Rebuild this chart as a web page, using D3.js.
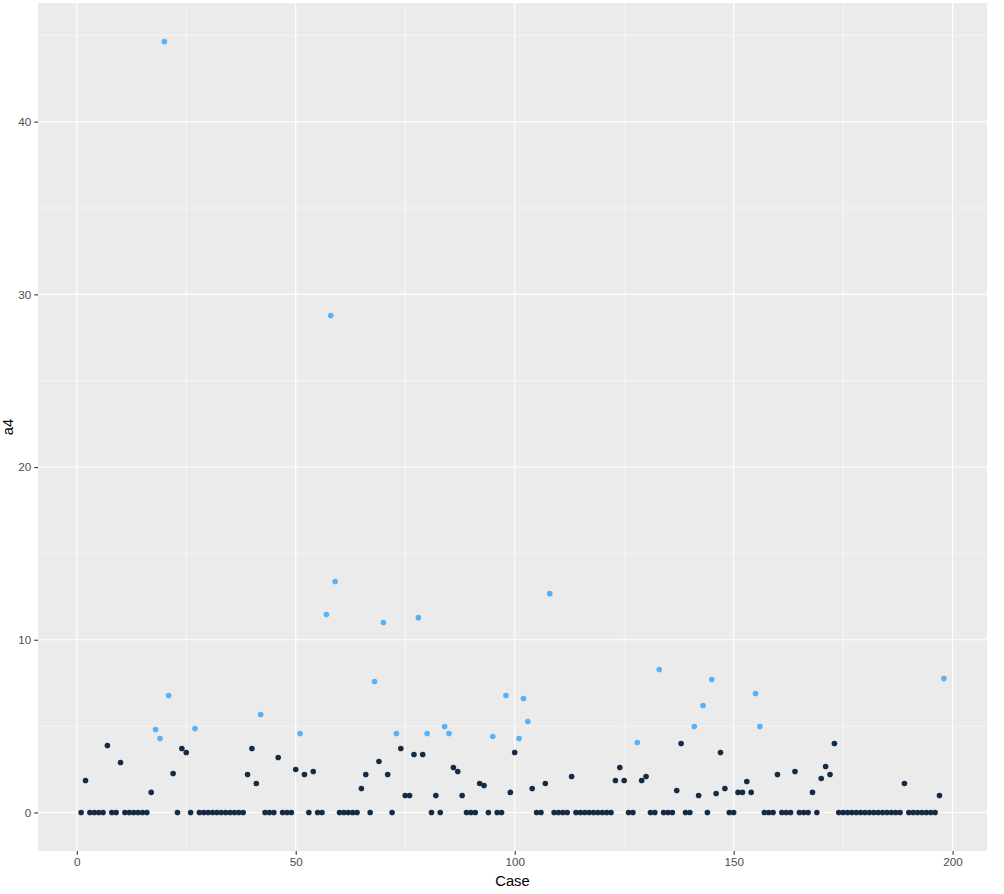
<!DOCTYPE html>
<html>
<head>
<meta charset="utf-8">
<script src="https://cdn.jsdelivr.net/npm/d3@7"></script>
<style>
  body { margin: 0; background: #fff; }
  text { font-family: "Liberation Sans", Arial, sans-serif; }
</style>
</head>
<body>
<script>
// chart size
var width = 1004,
    height = 894;

// panel edges
var margin = {top: 3, right: 17, bottom: 43, left: 38};

// a4 value for each case 1..198
var a4 = [
  0, 1.85, 0, 0, 0, 0, 3.88, 0, 0, 2.89,
  0, 0, 0, 0, 0, 0, 1.16, 4.80, 4.28, 44.64,
  6.77, 2.26, 0, 3.70, 3.47, 0, 4.86, 0, 0, 0,
  0, 0, 0, 0, 0, 0, 0, 0, 2.20, 3.70,
  1.68, 5.67, 0, 0, 0, 3.18, 0, 0, 0, 2.49,
  4.57, 2.20, 0, 2.37, 0, 0, 11.46, 28.78, 13.37, 0,
  0, 0, 0, 0, 1.39, 2.20, 0, 7.58, 2.95, 11.0,
  2.20, 0, 4.57, 3.70, 0.98, 0.98, 3.36, 11.28, 3.36, 4.57,
  0, 0.98, 0, 4.98, 4.57, 2.60, 2.37, 0.98, 0, 0,
  0, 1.68, 1.56, 0, 4.40, 0, 0, 6.77, 1.16, 3.47,
  4.28, 6.60, 5.27, 1.39, 0, 0, 1.68, 12.67, 0, 0,
  0, 0, 2.08, 0, 0, 0, 0, 0, 0, 0,
  0, 0, 1.85, 2.60, 1.85, 0, 0, 4.05, 1.85, 2.08,
  0, 0, 8.28, 0, 0, 0, 1.27, 3.99, 0, 0,
  4.98, 0.98, 6.19, 0, 7.70, 1.10, 3.47, 1.39, 0, 0,
  1.16, 1.16, 1.79, 1.16, 6.89, 4.98, 0, 0, 0, 2.20,
  0, 0, 0, 2.37, 0, 0, 0, 1.16, 0, 1.97,
  2.66, 2.20, 3.99, 0, 0, 0, 0, 0, 0, 0,
  0, 0, 0, 0, 0, 0, 0, 0, 1.68, 0,
  0, 0, 0, 0, 0, 0, 0.98, 7.75
];
var cases = a4.map(function(d, i){ return i + 1; });

// tick values
var xTicks = [0, 50, 100, 150, 200],
    xMinor = [25, 75, 125, 175],
    yTicks = [0, 10, 20, 30, 40],
    yMinor = [5, 15, 25, 35, 45];

var svg = d3.select("body")
    .append("svg")
    .attr("width", width)
    .attr("height", height);

// ggplot style 5% padding around the data
function padded(ext){
    var pad = (ext[1] - ext[0]) * 0.05;
    return [ext[0] - pad, ext[1] + pad];
}

var x = d3.scaleLinear()
    .domain(padded(d3.extent(cases)))
    .range([margin.left, width - margin.right]);

var y = d3.scaleLinear()
    .domain(padded(d3.extent(a4)))
    .range([height - margin.bottom, margin.top]);

// grey panel
svg.append("rect")
    .attr("x", margin.left)
    .attr("y", margin.top)
    .attr("width", width - margin.left - margin.right)
    .attr("height", height - margin.top - margin.bottom)
    .attr("fill", "#EBEBEB");

var grid = svg.append("g");

// minor grid lines first, then major
grid.selectAll(".xminor").data(xMinor).enter().append("line")
    .attr("x1", function(d){ return x(d); })
    .attr("x2", function(d){ return x(d); })
    .attr("y1", margin.top)
    .attr("y2", height - margin.bottom)
    .attr("stroke", "#fff").attr("stroke-width", 0.55);

grid.selectAll(".yminor").data(yMinor).enter().append("line")
    .attr("y1", function(d){ return y(d); })
    .attr("y2", function(d){ return y(d); })
    .attr("x1", margin.left)
    .attr("x2", width - margin.right)
    .attr("stroke", "#fff").attr("stroke-width", 0.55);

grid.selectAll(".xmajor").data(xTicks).enter().append("line")
    .attr("x1", function(d){ return x(d); })
    .attr("x2", function(d){ return x(d); })
    .attr("y1", margin.top)
    .attr("y2", height - margin.bottom)
    .attr("stroke", "#fff").attr("stroke-width", 1.1);

grid.selectAll(".ymajor").data(yTicks).enter().append("line")
    .attr("y1", function(d){ return y(d); })
    .attr("y2", function(d){ return y(d); })
    .attr("x1", margin.left)
    .attr("x2", width - margin.right)
    .attr("stroke", "#fff").attr("stroke-width", 1.1);

// axes
var xAxis = svg.append("g")
    .attr("transform", "translate(0," + (height - margin.bottom) + ")")
    .call(d3.axisBottom(x).tickValues(xTicks).tickSize(3.7).tickPadding(3));

var yAxis = svg.append("g")
    .attr("transform", "translate(" + margin.left + ",0)")
    .call(d3.axisLeft(y).tickValues(yTicks).tickSize(3.7).tickPadding(3));

[xAxis, yAxis].forEach(function(ax){
    ax.select(".domain").remove();
    ax.selectAll("line").attr("stroke", "#333333").attr("stroke-width", 1.1);
    ax.selectAll("text")
      .attr("fill", "#4D4D4D")
      .style("font-size", "11.7px")
      .style("font-family", "'Liberation Sans', Arial, sans-serif");
});

// points: values above 4 in light blue
svg.append("g").selectAll("circle")
    .data(a4)
    .enter()
    .append("circle")
    .attr("cx", function(d, i){ return x(cases[i]); })
    .attr("cy", function(d){ return y(d); })
    .attr("r", 2.8)
    .attr("fill", function(d){ return d > 4 ? "#56B1F7" : "#132B43"; });

// axis titles
svg.append("text")
    .attr("x", (margin.left + width - margin.right) / 2)
    .attr("y", 886)
    .attr("text-anchor", "middle")
    .style("font-size", "14.7px")
    .attr("fill", "#000")
    .text("Case");

svg.append("text")
    .attr("transform", "translate(13," + ((margin.top + height - margin.bottom) / 2) + ") rotate(-90)")
    .attr("text-anchor", "middle")
    .style("font-size", "14.7px")
    .attr("fill", "#000")
    .text("a4");
</script>
</body>
</html>
